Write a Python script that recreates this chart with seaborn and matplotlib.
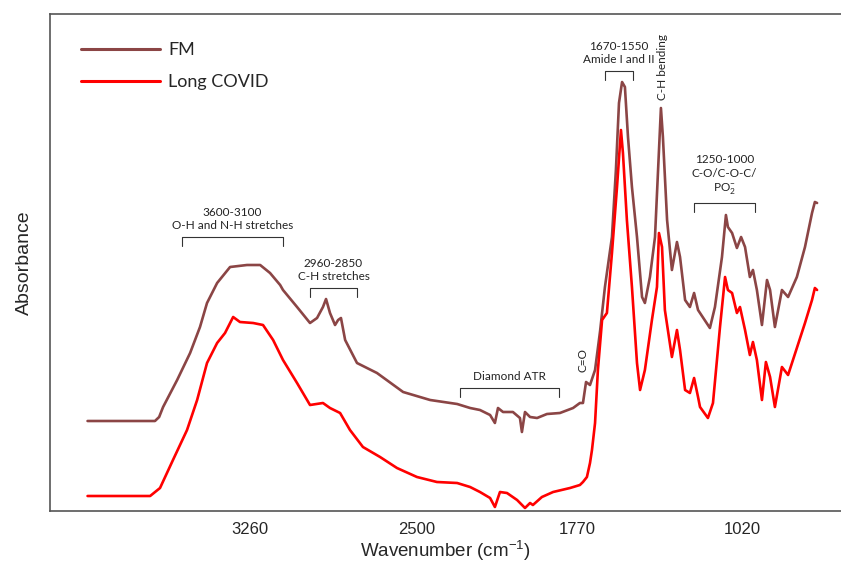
import matplotlib
matplotlib.use("Agg")
import matplotlib.pyplot as plt
import numpy as np
import pandas as pd
import seaborn as sns

# FTIR spectra (wavenumber in cm-1, absorbance in arbitrary units)
fm_wavenumber = [
    4000, 3693, 3674, 3656, 3592, 3533, 3488, 3456, 3410, 3351, 3274, 3214, 3169, 3123,
    3110, 3046, 2987, 2955, 2928, 2914, 2896, 2873, 2859, 2846, 2827, 2773, 2682, 2563,
    2440, 2317, 2258, 2213, 2167, 2145, 2131, 2108, 2063, 2031, 2022, 2008, 1985, 1953,
    1908, 1849, 1789, 1758, 1744, 1730, 1712, 1689, 1666, 1644, 1612, 1594, 1580, 1566,
    1553, 1539, 1521, 1498, 1475, 1462, 1439, 1416, 1402, 1389, 1380, 1361, 1339, 1316,
    1302, 1279, 1257, 1238, 1220, 1211, 1166, 1143, 1111, 1093, 1084, 1065, 1043, 1024,
    1006, 984, 970, 952, 929, 906, 892, 870, 838, 810, 770, 733, 701, 688, 678,
]
fm_absorbance = [
    0.180, 0.180, 0.188, 0.208, 0.262, 0.316, 0.368, 0.416, 0.456, 0.488, 0.492, 0.492, 0.476, 0.452,
    0.442, 0.408, 0.376, 0.386, 0.408, 0.424, 0.396, 0.372, 0.382, 0.386, 0.342, 0.296, 0.276, 0.238,
    0.222, 0.214, 0.206, 0.202, 0.192, 0.176, 0.206, 0.198, 0.198, 0.186, 0.158, 0.198, 0.188, 0.186,
    0.194, 0.196, 0.206, 0.216, 0.216, 0.258, 0.252, 0.282, 0.360, 0.448, 0.548, 0.682, 0.816, 0.858,
    0.848, 0.748, 0.648, 0.548, 0.428, 0.416, 0.468, 0.548, 0.682, 0.806, 0.748, 0.582, 0.482, 0.538,
    0.508, 0.422, 0.408, 0.436, 0.402, 0.396, 0.366, 0.408, 0.508, 0.592, 0.568, 0.556, 0.526, 0.548,
    0.528, 0.468, 0.482, 0.442, 0.372, 0.462, 0.442, 0.368, 0.442, 0.428, 0.468, 0.528, 0.596, 0.618, 0.616,
]
covid_wavenumber = [
    4000, 3715, 3670, 3611, 3547, 3501, 3456, 3410, 3374, 3337, 3306, 3246, 3201, 3155,
    3110, 3046, 2987, 2928, 2896, 2850, 2805, 2746, 2668, 2591, 2500, 2409, 2317, 2258,
    2213, 2167, 2145, 2122, 2090, 2044, 2008, 1985, 1972, 1931, 1880, 1803, 1758, 1744,
    1726, 1712, 1703, 1689, 1676, 1657, 1635, 1612, 1589, 1571, 1562, 1544, 1521, 1498,
    1484, 1462, 1430, 1407, 1398, 1384, 1371, 1339, 1316, 1302, 1279, 1257, 1238, 1220,
    1211, 1175, 1152, 1120, 1097, 1084, 1065, 1043, 1029, 1006, 984, 970, 952, 929,
    911, 892, 870, 838, 810, 770, 733, 701, 688, 678,
]
covid_absorbance = [
    0.030, 0.030, 0.046, 0.102, 0.162, 0.222, 0.296, 0.336, 0.356, 0.388, 0.378, 0.376, 0.372, 0.342,
    0.302, 0.256, 0.212, 0.216, 0.206, 0.196, 0.162, 0.128, 0.108, 0.086, 0.068, 0.058, 0.056, 0.048,
    0.038, 0.026, 0.008, 0.038, 0.036, 0.022, 0.006, 0.016, 0.012, 0.028, 0.038, 0.046, 0.052, 0.058,
    0.068, 0.096, 0.122, 0.176, 0.282, 0.382, 0.396, 0.516, 0.648, 0.762, 0.716, 0.582, 0.448, 0.296,
    0.242, 0.282, 0.382, 0.448, 0.556, 0.528, 0.402, 0.308, 0.362, 0.322, 0.242, 0.236, 0.266, 0.228,
    0.208, 0.186, 0.216, 0.368, 0.468, 0.442, 0.436, 0.396, 0.408, 0.362, 0.312, 0.338, 0.302, 0.222,
    0.298, 0.268, 0.208, 0.288, 0.272, 0.326, 0.376, 0.422, 0.446, 0.442,
]
series_names = ["FM", "Long COVID"]
series_colors = ["#8B4545", "#FF0000"]
tick_values = [3260, 2500, 1770, 1020]

# band brackets: (left cm-1, right cm-1, bracket height, label)
bands = [
    (3570, 3110, 0.548, "3600-3100\nO-H and N-H stretches"),
    (2987, 2773, 0.446, "2960-2850\nC-H stretches"),
    (2304, 1853, 0.246, "Diamond ATR"),
    (1644, 1516, 0.880, "1670-1550\nAmide I and II"),
    (1238, 961, 0.616, "1250-1000\nC-O/C-O-C/\nPO$_{\\mathregular{2}}^{\\mathregular{-}}$"),
]

df = pd.concat([
    pd.DataFrame({"wavenumber": fm_wavenumber, "absorbance": fm_absorbance, "sample": series_names[0]}),
    pd.DataFrame({"wavenumber": covid_wavenumber, "absorbance": covid_absorbance, "sample": series_names[1]}),
])

sns.set_style("white")
plt.rcParams["font.family"] = ["Liberation Sans", "DejaVu Sans"]
plt.rcParams["mathtext.fontset"] = "custom"
plt.rcParams["mathtext.rm"] = "Liberation Sans"
plt.rcParams["mathtext.it"] = "Liberation Sans:italic"

fig = plt.figure(figsize=(8.41, 5.66), dpi=100)
ax = fig.add_axes([50 / 841, 1 - 511 / 566, 791 / 841, 497 / 566])

sns.lineplot(
    data=df, x="wavenumber", y="absorbance", hue="sample",
    palette=dict(zip(series_names, series_colors)), estimator=None, sort=False,
    linewidth=1.9, ax=ax,
)

ax.set_xlim(4171, 569)
ax.set_ylim(0, 0.994)
ax.set_xticks(tick_values)
ax.set_xticklabels([str(t) for t in tick_values], fontsize=12)
ax.set_yticks([])
ax.tick_params(axis="x", length=0, pad=8)
ax.set_xlabel("Wavenumber (cm$^{\\mathregular{-1}}$)", fontsize=13.5, labelpad=1)
ax.set_ylabel("Absorbance", fontsize=14, labelpad=12)
for side in ["left", "bottom", "top"]:
    ax.spines[side].set_color("#555555")
    ax.spines[side].set_linewidth(1.2)
ax.spines["right"].set_visible(False)

anno_font = ["Lato", "DejaVu Sans"]
for left, right, height, label in bands:
    ax.plot([left, left, right, right], [height - 0.017, height, height, height - 0.017],
            color="#333333", lw=0.8)
    ax.text((left + right) / 2, height + 0.012, label, ha="center", va="bottom",
            fontsize=8.5, family=anno_font, linespacing=1.25, color="#222222")

ax.text(1744, 0.278, "C=O", rotation=90, ha="center", va="bottom",
        fontsize=8.5, family=anno_font, color="#222222")
ax.text(1384, 0.822, "C-H bending", rotation=90, ha="center", va="bottom",
        fontsize=8.5, family=anno_font, color="#222222")

leg = ax.legend(loc="upper left", bbox_to_anchor=(0.039, 0.943), frameon=False,
                handlelength=4.4, handletextpad=0.45, labelspacing=0.87,
                borderpad=0, borderaxespad=0, prop={"family": anno_font, "size": 13})
for line in leg.get_lines():
    line.set_linewidth(2.2)

fig.savefig("out.png", dpi=100)
